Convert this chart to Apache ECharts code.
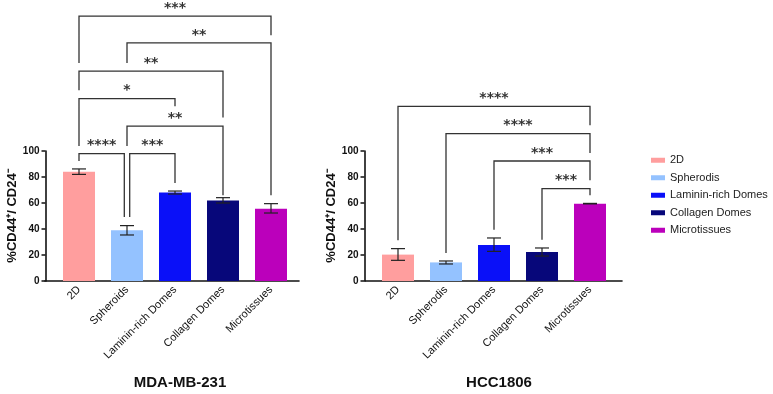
<!DOCTYPE html>
<html>
<head>
<meta charset="utf-8">
<script src="https://cdn.jsdelivr.net/npm/echarts@6/dist/echarts.min.js"></script>
<style>
  html, body { margin: 0; padding: 0; background: #fff; }
  #main { width: 773px; height: 394px; }
</style>
</head>
<body>
<div id="main"></div>
<script>
// 类别
const catsL = ['2D', 'Spheroids', 'Laminin-rich Domes', 'Collagen Domes', 'Microtissues'];
const catsR = ['2D', 'Spherodis', 'Laminin-rich Domes', 'Collagen Domes', 'Microtissues'];
const colors = ['#ff9e9e', '#94c2ff', '#0a10f8', '#07077a', '#bb00bb'];
const yTicks = [0, 20, 40, 60, 80, 100];

// MDA-MB-231
const meanL = [84.1, 39.0, 68.0, 62.0, 55.6];
const lowL = [82.0, 35.4, 66.9, 60.0, 52.3];
const highL = [86.2, 42.6, 69.2, 64.1, 59.5];

// HCC1806
const meanR = [20.3, 14.3, 27.7, 22.3, 59.5];
const lowR = [15.9, 13.1, 22.8, 19.2, 59.3];
const highR = [24.9, 15.4, 33.1, 25.4, 59.7];

// 显著性标注: [from, to, 横线高度, 左腿底部, 右腿底部, 星号]
const bracketsL = [
  [0, 4, 203.8, 167.7, 189.0, '***'],
  [1, 4, 183.1, 167.7, 65.9, '**'],
  [0, 3, 161.5, 146.7, 125.7, '**'],
  [0, 2, 140.3, 103.8, 134.4, '*'],
  [1, 3, 119.2, 103.8, 65.9, '**'],
  [0, 1, 98.0, 92.3, 49.2, '****'],
  [1, 2, 98.0, 49.2, 75.4, '***']
];
const bracketsR = [
  [0, 4, 134.4, 31.3, 119.8, '****'],
  [1, 4, 113.4, 21.5, 98.5, '****'],
  [2, 4, 92.3, 39.5, 77.5, '***'],
  [3, 4, 71.1, 31.8, 65.9, '***']
];

const FONT = '"Liberation Sans", Arial, sans-serif';
let myChart = echarts.init(document.getElementById('main'));

function barSeries(names, mean, xi, stack) {
  return names.map(function (n, i) {
    return {
      name: catsR[i],
      type: 'bar',
      stack: stack,
      xAxisIndex: xi,
      yAxisIndex: xi,
      barWidth: 32,
      itemStyle: { color: colors[i] },
      data: names.map(function (c, j) { return j === i ? mean[i] : '-'; })
    };
  });
}

function errSeries(low, high, xi) {
  return {
    type: 'custom',
    xAxisIndex: xi,
    yAxisIndex: xi,
    silent: true,
    z: 5,
    encode: { x: 0, y: [1, 2] },
    data: low.map(function (l, i) { return [i, l, high[i]]; }),
    renderItem: function (params, api) {
      let lo = api.coord([api.value(0), api.value(1)]);
      let hi = api.coord([api.value(0), api.value(2)]);
      let w = 7;
      let st = { stroke: '#222', lineWidth: 1.2, fill: null };
      return {
        type: 'group',
        children: [
          { type: 'line', shape: { x1: lo[0], y1: lo[1], x2: hi[0], y2: hi[1] }, style: st },
          { type: 'line', shape: { x1: lo[0] - w, y1: lo[1], x2: lo[0] + w, y2: lo[1] }, style: st },
          { type: 'line', shape: { x1: hi[0] - w, y1: hi[1], x2: hi[0] + w, y2: hi[1] }, style: st }
        ]
      };
    }
  };
}

function bracketSeries(brackets, xi) {
  return {
    type: 'custom',
    xAxisIndex: xi,
    yAxisIndex: xi,
    silent: true,
    clip: false,
    encode: { x: 0, y: 2 },
    data: brackets.map(function (b) { return [b[0], b[1], b[2], b[3], b[4]]; }),
    renderItem: function (params, api) {
      let b = brackets[params.dataIndex];
      // 同一高度共享端点时错开
      let sa = 0, sb = 0;
      brackets.forEach(function (o, k) {
        if (k === params.dataIndex || o[2] !== b[2]) return;
        if (o[0] === b[1] || o[1] === b[1]) sb = -2.7;
        if (o[0] === b[0] || o[1] === b[0]) sa = 2.7;
      });
      let pa = api.coord([b[0], b[2]]);
      let pb = api.coord([b[1], b[2]]);
      let ya = api.coord([b[0], b[3]])[1];
      let yb = api.coord([b[1], b[4]])[1];
      let xa = pa[0] + sa, xb = pb[0] + sb;
      return {
        type: 'group',
        children: [
          {
            type: 'polyline',
            shape: { points: [[xa, ya], [xa, pa[1]], [xb, pa[1]], [xb, yb]] },
            style: { stroke: '#333', lineWidth: 1.3, fill: null }
          },
          {
            type: 'text',
            x: (xa + xb) / 2,
            y: pa[1] - 1,
            style: {
              text: b[5],
              fill: '#333',
              font: 'bold 14px "DejaVu Sans", sans-serif',
              align: 'center',
              verticalAlign: 'bottom'
            }
          }
        ]
      };
    }
  };
}

function catAxis(names, gi) {
  return {
    type: 'category',
    gridIndex: gi,
    data: names,
    axisLine: { show: false },
    axisTick: { alignWithLabel: true, length: 4, lineStyle: { color: '#111', width: 1.5 } },
    axisLabel: { rotate: 45, color: '#111', fontSize: 11, fontFamily: FONT, margin: 7, interval: 0 }
  };
}

function valAxis(gi) {
  return {
    type: 'value',
    gridIndex: gi,
    min: yTicks[0],
    max: yTicks[yTicks.length - 1],
    interval: 20,
    offset: 9.5,
    name: '%CD44\u207A/ CD24\u207B',
    nameLocation: 'middle',
    nameGap: 26,
    nameTextStyle: { fontSize: 13, fontWeight: 'bold', color: '#111', fontFamily: FONT },
    axisLine: { show: true, lineStyle: { color: '#111', width: 1.6 } },
    axisTick: { show: true, length: 4, lineStyle: { color: '#111', width: 1.5 } },
    axisLabel: { color: '#111', fontSize: 10, fontWeight: 'bold', fontFamily: FONT, margin: 6 },
    splitLine: { show: false }
  };
}

// 只画延长的x轴线
function lineXAxis(gi) {
  return {
    type: 'value', gridIndex: gi, min: 0, max: 1,
    axisLine: { show: true, onZero: false, lineStyle: { color: '#111', width: 1.6 } },
    axisTick: { show: false }, axisLabel: { show: false }, splitLine: { show: false }
  };
}
function hiddenY(gi) {
  return { type: 'value', gridIndex: gi, min: 0, max: 1, show: false };
}

let option = {
  animation: false,
  textStyle: { fontFamily: FONT },
  title: [
    { text: 'MDA-MB-231', left: 175, top: 370, textAlign: 'center',
      textStyle: { fontSize: 15, fontWeight: 'bold', color: '#111', fontFamily: FONT } },
    { text: 'HCC1806', left: 494, top: 370, textAlign: 'center',
      textStyle: { fontSize: 15, fontWeight: 'bold', color: '#111', fontFamily: FONT } }
  ],
  legend: {
    orient: 'vertical',
    left: 646,
    top: 149,
    icon: 'rect',
    itemWidth: 14,
    itemHeight: 5,
    itemGap: 5,
    data: catsR,
    textStyle: { fontSize: 11, color: '#222', fontFamily: FONT, lineHeight: 12.5 }
  },
  grid: [
    { left: 55, width: 240, top: 151, height: 130 },
    { left: 374, width: 240, top: 151, height: 130 },
    { left: 45, width: 254, top: 151, height: 130 },
    { left: 365, width: 257, top: 151, height: 130 }
  ],
  xAxis: [catAxis(catsL, 0), catAxis(catsR, 1), lineXAxis(2), lineXAxis(3)],
  yAxis: [valAxis(0), valAxis(1), hiddenY(2), hiddenY(3)],
  series: [].concat(
    barSeries(catsL, meanL, 0, 'L'),
    barSeries(catsR, meanR, 1, 'R'),
    [errSeries(lowL, highL, 0), errSeries(lowR, highR, 1),
     bracketSeries(bracketsL, 0), bracketSeries(bracketsR, 1)]
  )
};

myChart.setOption(option);
window.addEventListener('resize', function () {
  myChart.resize();
});
</script>
</body>
</html>
